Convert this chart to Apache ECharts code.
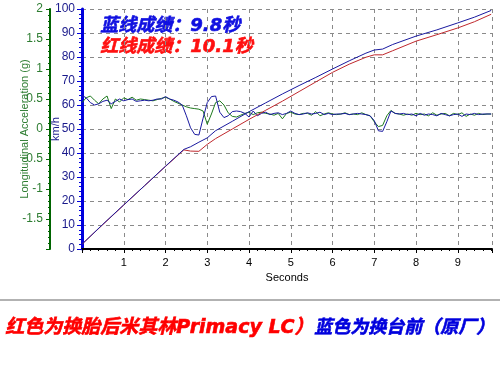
<!DOCTYPE html>
<html><head><meta charset="utf-8">
<script src="https://cdn.jsdelivr.net/npm/echarts@6/dist/echarts.min.js"></script>
<style>html,body{margin:0;padding:0;background:#fff}#c{width:500px;height:367px}</style>
</head><body><div id="c"></div>
<script>
const speedTime = [0,0.5,1,1.5,2,2.44,2.6,2.8,3.0,3.2,3.6,4.0,4.4,4.8,5.2,5.6,6.0,6.4,6.8,7.0,7.2,7.44,8.0,8.5,9.0,9.4,9.8];
const speedBlue = [2,10.3,18.4,26.4,34.5,41.5,42.6,44.5,46.3,49.3,53.2,57.2,60.9,64.6,68.1,71.5,75,78.4,81.6,82.9,83.3,85.2,88.7,91.3,94.2,96.6,99.4];
const speedRed  = [2,10.2,18.3,26.4,34.4,41.3,40.8,40.7,43.6,46,50,54,57.8,61.6,65.6,69.6,73.6,77,79.9,80.9,80.9,82.6,86.6,89.3,92.1,94.7,97.8];

const accTime = [0,0.1,0.2,0.3,0.4,0.5,0.6,0.7,0.8,0.9,1.0,1.1,1.2,1.3,1.4,1.5,1.6,1.7,1.8,1.9,
  2.0,2.1,2.2,2.3,2.4,2.5,2.6,2.7,2.8,2.9,3.0,3.1,3.2,3.3,3.4,3.5,3.6,3.7,3.8,3.9,
  4.0,4.1,4.2,4.3,4.4,4.5,4.6,4.7,4.8,4.9,5.0,5.1,5.2,5.3,5.4,5.5,5.6,5.7,5.8,5.9,
  6.0,6.1,6.2,6.3,6.4,6.5,6.6,6.7,6.8,6.9,7.0,7.1,7.2,7.3,7.4,7.5,7.6,7.7,7.8,7.9,
  8.0,8.1,8.2,8.3,8.4,8.5,8.6,8.7,8.8,8.9,9.0,9.1,9.2,9.3,9.4,9.5,9.6,9.7,9.8];
const accBlue = [0.56,0.52,0.44,0.40,0.42,0.46,0.48,0.42,0.46,0.50,0.47,0.49,0.50,0.46,0.47,0.48,0.47,0.48,0.50,0.50,
  0.54,0.50,0.48,0.45,0.40,0.22,0.02,-0.09,-0.10,0.18,0.44,0.54,0.55,0.28,0.19,0.22,0.29,0.30,0.29,0.26,
  0.20,0.30,0.22,0.26,0.28,0.24,0.26,0.27,0.24,0.26,0.30,0.26,0.24,0.25,0.27,0.25,0.26,0.28,0.24,0.26,
  0.24,0.25,0.25,0.26,0.24,0.25,0.26,0.25,0.24,0.22,0.14,-0.03,-0.04,0.12,0.30,0.26,0.25,0.26,0.24,0.25,
  0.22,0.26,0.23,0.25,0.24,0.22,0.26,0.24,0.22,0.24,0.25,0.21,0.25,0.24,0.26,0.24,0.25,0.25,0.25];
const accGreen = [0.44,0.52,0.55,0.48,0.42,0.50,0.55,0.34,0.50,0.45,0.52,0.49,0.53,0.48,0.50,0.49,0.48,0.47,0.49,0.51,
  0.53,0.50,0.46,0.43,0.40,0.37,0.35,0.34,0.33,0.30,0.08,0.25,0.44,0.47,0.40,0.27,0.21,0.20,0.23,0.26,
  0.28,0.24,0.27,0.28,0.26,0.25,0.23,0.26,0.17,0.26,0.28,0.25,0.24,0.26,0.26,0.23,0.29,0.22,0.25,0.27,
  0.25,0.24,0.25,0.27,0.24,0.25,0.24,0.27,0.24,0.22,0.12,0.04,0.06,0.22,0.31,0.26,0.25,0.23,0.25,0.23,
  0.26,0.24,0.25,0.22,0.27,0.23,0.25,0.26,0.22,0.26,0.24,0.27,0.21,0.25,0.23,0.26,0.24,0.25,0.25];

const xTickLabels = [1,2,3,4,5,6,7,8,9];
const speedTickLabels = [0,10,20,30,40,50,60,70,80,90,100];
const accTickLabels = [2,1.5,1,0.5,0,-0.5,-1,-1.5];
const noteBlue = '蓝线成绩：9.8秒';
const noteRed = '红线成绩：10.1秒';
const captionRed = '红色为换胎后米其林Primacy LC）';
const captionBlue = '蓝色为换台前（原厂）';

const zip = (t, v) => t.map((x, i) => [x, v[i]]);
const boldFont = 'italic bold 18px "DejaVu Sans", "Noto Sans CJK SC", sans-serif';
const captionFontRed = 'italic bold 19px "DejaVu Sans", "Noto Sans CJK SC", sans-serif';
const axisFont = 'Liberation Sans';

const chart = echarts.init(document.getElementById('c'), null, {renderer: 'canvas'});
chart.setOption({
  animation: false,
  backgroundColor: '#fff',
  grid: {left: 82, right: 8, top: 9, bottom: 118, outerBoundsMode: 'none', containLabel: false},
  xAxis: [{
    type: 'value', min: 0, max: 9.82, interval: 1,
    axisLine: {show: true, onZero: false, lineStyle: {color: '#000', width: 2}},
    axisTick: {show: true, length: 4, lineStyle: {color: '#000'}},
    minorTick: {show: true, splitNumber: 5, length: 2, lineStyle: {color: '#000'}},
    axisLabel: {color: '#000', fontSize: 11, fontFamily: axisFont, margin: 8,
      formatter: v => xTickLabels.includes(Math.round(v * 100) / 100) ? String(v) : ''},
    splitLine: {show: true, lineStyle: {type: [4, 4], color: '#8a8a8a'}},
    name: 'Seconds', nameLocation: 'middle', nameGap: 23,
    nameTextStyle: {color: '#000', fontSize: 11, fontFamily: axisFont}
  }, {
    type: 'value', position: 'top', min: 0, max: 9.82,
    axisLine: {show: true, lineStyle: {color: '#000', width: 1}},
    axisTick: {show: false}, axisLabel: {show: false}, splitLine: {show: false}
  }],
  yAxis: [{
    type: 'value', position: 'left', min: 0, max: 100, interval: 10,
    axisLine: {show: true, onZero: false, lineStyle: {color: '#0000dd', width: 3}},
    axisTick: {show: true, length: 5, lineStyle: {color: '#0000dd'}},
    minorTick: {show: true, splitNumber: 5, length: 3, lineStyle: {color: '#0000dd'}},
    axisLabel: {color: '#1a1a8c', fontSize: 12, fontFamily: axisFont, margin: 7,
      formatter: v => speedTickLabels.includes(v) ? String(v) : ''},
    splitLine: {show: true, lineStyle: {type: [4, 4], color: '#8a8a8a'}},
    name: 'km/h', nameLocation: 'middle', nameGap: 21, nameMoveOverlap: false,
    nameTextStyle: {color: '#1a1a8c', fontSize: 11, fontFamily: axisFont}
  }, {
    type: 'value', position: 'left', offset: 32, min: -2, max: 2, interval: 0.5,
    axisLine: {show: true, onZero: false, lineStyle: {color: '#006400', width: 2}},
    axisTick: {show: true, length: 4, lineStyle: {color: '#006400'}},
    minorTick: {show: true, splitNumber: 5, length: 2, lineStyle: {color: '#006400'}},
    axisLabel: {color: '#2e7d32', fontSize: 12, fontFamily: axisFont, margin: 7,
      formatter: v => accTickLabels.includes(v) ? String(v) : ''},
    splitLine: {show: false},
    name: 'Longitudinal Acceleration (g)', nameLocation: 'middle', nameGap: 20, nameMoveOverlap: false,
    nameTextStyle: {color: '#2e7d32', fontSize: 11, fontFamily: axisFont}
  }],
  series: [
    {type: 'line', name: 'accGreen', xAxisIndex: 0, yAxisIndex: 1, data: zip(accTime, accGreen),
     showSymbol: false, symbol: 'none', lineStyle: {color: '#1e7a1e', width: 1}},
    {type: 'line', name: 'accBlue', xAxisIndex: 0, yAxisIndex: 1, data: zip(accTime, accBlue),
     showSymbol: false, symbol: 'none', lineStyle: {color: '#1a1aa0', width: 1}},
    {type: 'line', name: 'speedRed', xAxisIndex: 0, yAxisIndex: 0, data: zip(speedTime, speedRed),
     showSymbol: false, symbol: 'none', lineStyle: {color: '#c0282d', width: 1}},
    {type: 'line', name: 'speedBlue', xAxisIndex: 0, yAxisIndex: 0, data: zip(speedTime, speedBlue),
     showSymbol: false, symbol: 'none', lineStyle: {color: '#1a1aa0', width: 1}}
  ],
  graphic: [
    {type: 'text', left: 100, top: 17, style: {text: noteBlue, fill: '#1010e0', stroke: '#1010e0', lineWidth: 0.6, font: boldFont}},
    {type: 'text', left: 100, top: 38, style: {text: noteRed, fill: '#ff1010', stroke: '#ff1010', lineWidth: 0.6, font: boldFont}},
    {type: 'line', shape: {x1: 0, y1: 300, x2: 500, y2: 300}, style: {stroke: '#999', lineWidth: 1.5}},
    {type: 'text', left: 5, top: 318, style: {text: captionRed, fill: '#ff0000', stroke: '#ff0000', lineWidth: 0.6, font: captionFontRed}},
    {type: 'text', left: 314, top: 319, style: {text: captionBlue, fill: '#0000dd', stroke: '#0000dd', lineWidth: 0.6, font: boldFont}}
  ]
});
</script></body></html>
